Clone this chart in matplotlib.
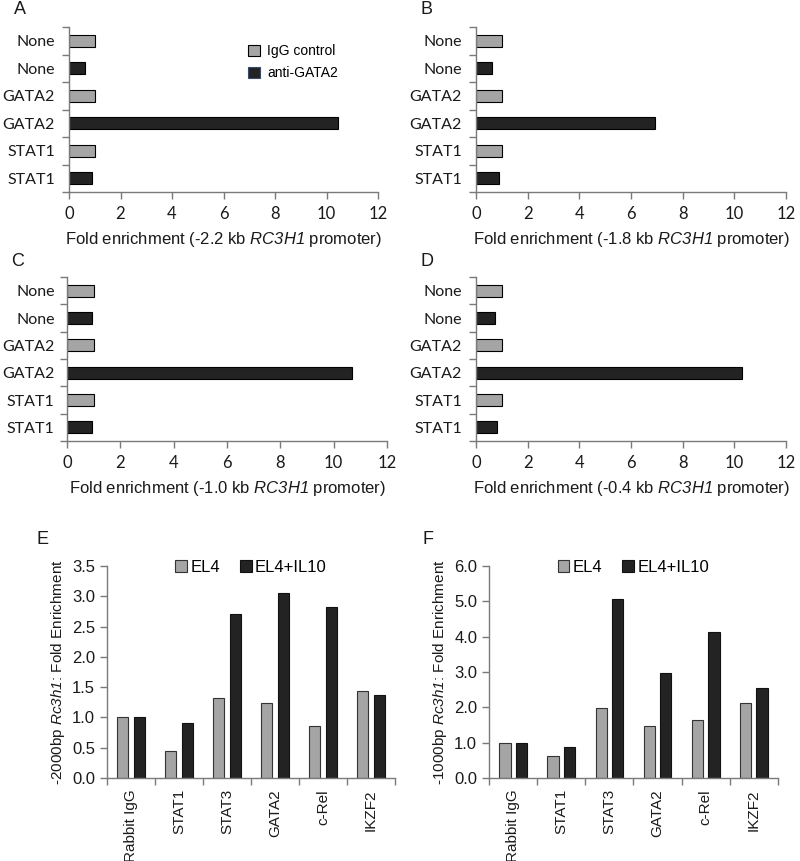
import matplotlib
matplotlib.use("Agg")
import matplotlib.pyplot as plt
from matplotlib.patches import Patch
import numpy as np

plt.rcParams['font.family'] = 'Liberation Sans'
# math segments are only used for the italic gene names
plt.rcParams['mathtext.fontset'] = 'custom'
plt.rcParams['mathtext.rm'] = 'Liberation Sans:italic'
plt.rcParams['mathtext.it'] = 'Liberation Sans:italic'

# panels A-D data (top to bottom)
row_labels = ['None', 'None', 'GATA2', 'GATA2', 'STAT1', 'STAT1']
row_kind = ['IgG', 'anti', 'IgG', 'anti', 'IgG', 'anti']
fold_A = [1.0, 0.62, 1.0, 10.45, 1.0, 0.9]
fold_B = [1.0, 0.62, 1.0, 6.94, 1.0, 0.9]
fold_C = [1.0, 0.95, 1.0, 10.7, 1.0, 0.95]
fold_D = [1.0, 0.72, 1.0, 10.3, 1.0, 0.8]
site_A = '-2.2 kb'
site_B = '-1.8 kb'
site_C = '-1.0 kb'
site_D = '-0.4 kb'

# panels E-F data
antibodies = ['Rabbit IgG', 'STAT1', 'STAT3', 'GATA2', 'c-Rel', 'IKZF2']
el4_E = [1.0, 0.45, 1.32, 1.23, 0.86, 1.44]
il10_E = [1.0, 0.91, 2.70, 3.06, 2.82, 1.37]
el4_F = [1.0, 0.62, 1.99, 1.48, 1.64, 2.13]
il10_F = [1.0, 0.89, 5.08, 2.98, 4.14, 2.54]

GRAY = '#a5a5a5'
DARK = '#232323'
AXC = '#7a7a7a'
TXT = '#1a1a1a'
W, H = 800, 861


def add_axes(fig, x0, x1, ytop, ybot):
    return fig.add_axes([x0 / W, 1 - ybot / H, (x1 - x0) / W, (ybot - ytop) / H])


def style_spines(ax):
    for s in ['top', 'right']:
        ax.spines[s].set_visible(False)
    for s in ['left', 'bottom']:
        ax.spines[s].set_color(AXC)
        ax.spines[s].set_linewidth(1)


def hbar_panel(ax, values, site, pad=10):
    y = np.arange(len(values))
    colors = [GRAY if k == 'IgG' else DARK for k in row_kind]
    ax.barh(y, values, height=0.43, color=colors, edgecolor='black', linewidth=0.8)
    ax.set_ylim(5.5, -0.5)
    ax.set_xlim(0, 12)
    ax.set_xticks(range(0, 13, 2))
    ax.set_yticks(y)
    ax.set_yticklabels(row_labels, family='Lato', fontsize=11.5, color=TXT)
    ax.set_yticks(np.arange(-0.5, 6, 1), minor=True)
    ax.tick_params(axis='y', which='major', length=0, pad=pad)
    ax.tick_params(axis='y', which='minor', length=5, color=AXC, width=1)
    ax.tick_params(axis='x', length=5, color=AXC, width=1, pad=5)
    for t in ax.get_xticklabels():
        t.set_family('Lato')
        t.set_fontsize(12)
        t.set_color(TXT)
    style_spines(ax)
    ax.set_xlabel('Fold enrichment (' + site + r' $RC3H1$ promoter)',
                  fontsize=12, color=TXT, labelpad=6)


def vbar_panel(ax, a, b, yticks, label_prefix):
    x = np.arange(len(antibodies))
    ax.bar(x - 0.17, a, width=0.235, color=GRAY, edgecolor='#333333', linewidth=0.8, label='EL4')
    ax.bar(x + 0.17, b, width=0.235, color=DARK, edgecolor='#111111', linewidth=0.8, label='EL4+IL10')
    ax.set_xlim(-0.5, 5.5)
    ax.set_ylim(0, yticks[-1])
    ax.set_yticks(yticks)
    ax.set_yticklabels(['%.1f' % v for v in yticks])
    ax.set_xticks(x)
    ax.set_xticklabels(antibodies, rotation=90, fontsize=11, color=TXT)
    ax.set_xticks(np.arange(-0.5, 6, 1), minor=True)
    ax.tick_params(axis='x', which='major', length=0, pad=8)
    ax.tick_params(axis='x', which='minor', length=5, color=AXC, width=1)
    ax.tick_params(axis='y', length=5, color=AXC, width=1, labelsize=12, labelcolor=TXT)
    style_spines(ax)
    ax.set_ylabel(label_prefix + r' $Rc3h1$: Fold Enrichment', fontsize=11, color=TXT, labelpad=4)
    ax.legend(loc='upper center', bbox_to_anchor=(0.5, 1.06), ncol=2, frameon=False,
              fontsize=12, handlelength=0.7, handleheight=0.7, handletextpad=0.2,
              columnspacing=1.2, borderaxespad=0)


fig = plt.figure(figsize=(W / 100, H / 100), dpi=100)

axA = add_axes(fig, 69, 378, 27, 192)
axB = add_axes(fig, 476, 786, 27, 192)
axC = add_axes(fig, 67, 387, 277, 441)
axD = add_axes(fig, 476, 786, 277, 441)
hbar_panel(axA, fold_A, site_A)
hbar_panel(axB, fold_B, site_B)
hbar_panel(axC, fold_C, site_C, pad=9)
hbar_panel(axD, fold_D, site_D)

handles = [Patch(facecolor=GRAY, edgecolor='black', linewidth=0.8, label='IgG control'),
           Patch(facecolor=DARK, edgecolor='#3a4a6b', linewidth=0.8, label='anti-GATA2')]
axA.legend(handles=handles, loc='upper left', bbox_to_anchor=(0.56, 0.93), frameon=False,
           fontsize=10, handlelength=0.9, handleheight=0.9, handletextpad=0.5, labelspacing=0.6,
           borderaxespad=0)

axE = add_axes(fig, 107, 395, 566, 778)
axF = add_axes(fig, 489, 778, 566, 778)
vbar_panel(axE, el4_E, il10_E, np.arange(0, 3.51, 0.5), '-2000bp')
vbar_panel(axF, el4_F, il10_F, np.arange(0, 6.01, 1.0), '-1000bp')

for letter, (px, py) in zip('ABCDEF', [(20, 10), (427, 10), (18, 262), (427, 262), (43, 540), (428, 540)]):
    fig.text(px / W, 1 - py / H, letter, fontsize=13, color=TXT, ha='center', va='center')

fig.savefig('out.png', dpi=100)
